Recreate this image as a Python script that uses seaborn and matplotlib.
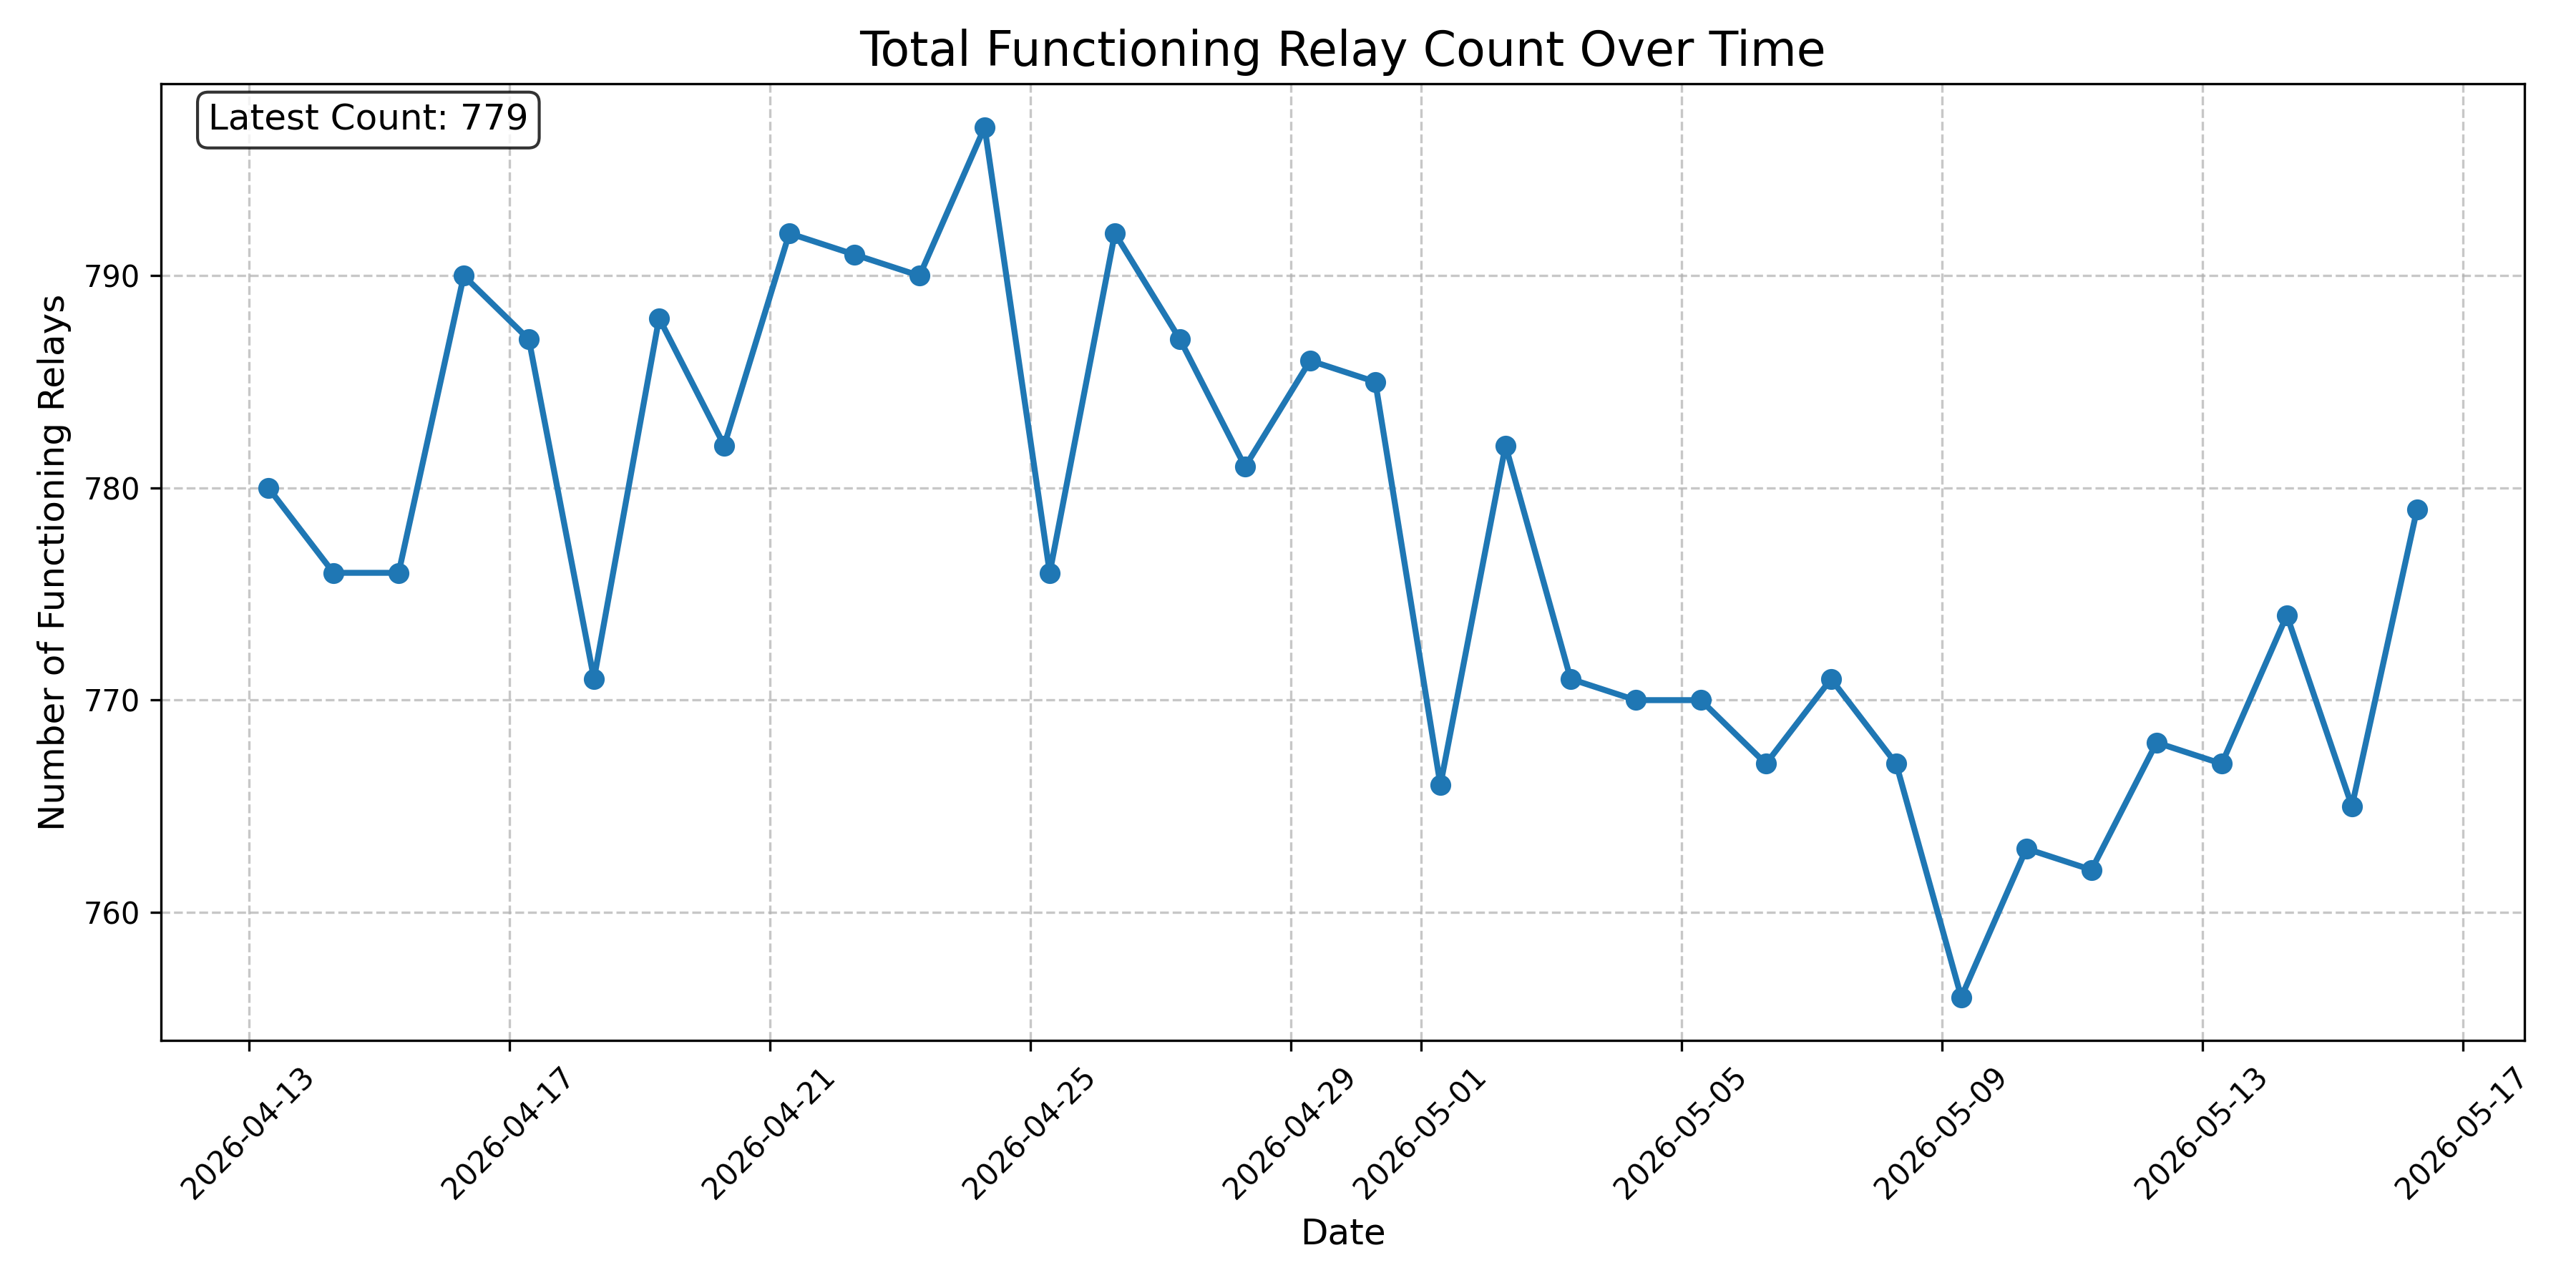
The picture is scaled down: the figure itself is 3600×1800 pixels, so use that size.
import matplotlib
matplotlib.use("Agg")
import matplotlib.pyplot as plt
import matplotlib.dates as mdates
import pandas as pd
import seaborn as sns

# daily relay counts
start_date = "2026-04-13 07:12"
counts = [780, 776, 776, 790, 787, 771, 788, 782, 792, 791, 790, 797,
          776, 792, 787, 781, 786, 785, 766, 782, 771, 770, 770, 767,
          771, 767, 756, 763, 762, 768, 767, 774, 765, 779]
dates = pd.date_range(start_date, periods=len(counts), freq="D")

df = pd.DataFrame({"date": dates, "count": counts})

fig, ax = plt.subplots(figsize=(12, 6), dpi=300)
sns.lineplot(data=df, x="date", y="count", ax=ax, marker="o", color="#1f77b4",
             linewidth=2, markersize=6, markeredgecolor="#1f77b4", markeredgewidth=1)

ax.set_title("Total Functioning Relay Count Over Time", fontsize=16)
ax.set_xlabel("Date", fontsize=12)
ax.set_ylabel("Number of Functioning Relays", fontsize=12)
ax.grid(True, linestyle="--", alpha=0.7)
ax.xaxis.set_major_locator(mdates.AutoDateLocator())
ax.xaxis.set_major_formatter(mdates.DateFormatter("%Y-%m-%d"))
plt.xticks(rotation=45)

ax.text(0.02, 0.98, f"Latest Count: {counts[-1]}", transform=ax.transAxes,
        fontsize=12, va="top",
        bbox=dict(boxstyle="round", facecolor="white", alpha=0.8))

fig.subplots_adjust(left=0.0625, right=0.98, top=0.935, bottom=0.192)
plt.savefig("out.png", dpi=300)
